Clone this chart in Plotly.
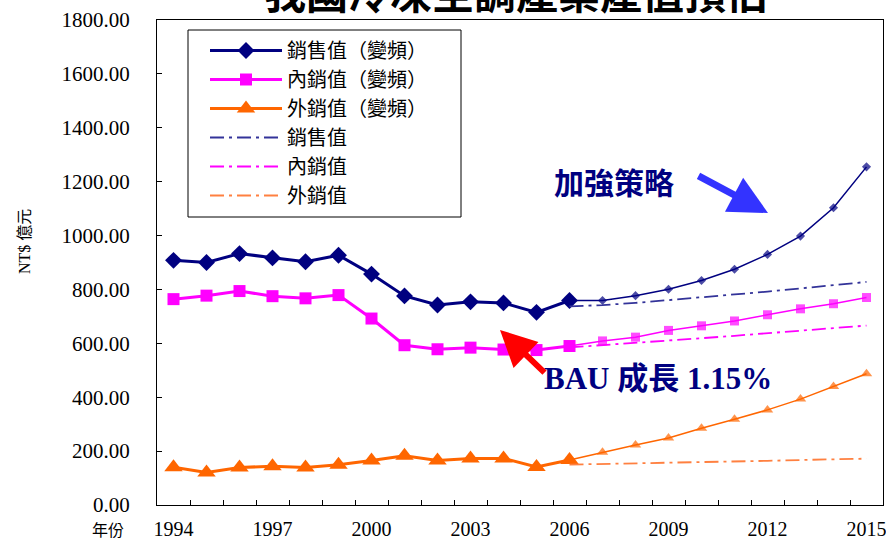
import plotly.graph_objects as go

# ---- data (NT$ 億元) ----
years = list(range(1994, 2016))
hist_years = years[:13]          # 1994-2006 actual
fc_years = years[12:]            # 2006-2015 projection

sales_hist = [908, 900, 933, 917, 903, 927, 857, 776, 742, 754, 750, 715, 759]
domestic_hist = [764, 777, 794, 775, 767, 779, 692, 593, 578, 584, 577, 575, 590]
export_hist = [140, 121, 139, 144, 139, 149, 165, 183, 165, 173, 173, 141, 167]

# 2007-2015 with strengthened (inverter) strategy
sales_fc = [759, 777, 801, 833, 875, 930, 998, 1103, 1255]
domestic_fc = [609, 623, 648, 665, 683, 706, 728, 747, 770]
export_fc = [196, 223, 249, 285, 318, 353, 393, 440, 487]

# 2006-2015 business-as-usual
sales_bau = [737, 742, 750, 760, 770, 781, 792, 804, 816, 828]
domestic_bau = [585, 593, 601, 610, 619, 628, 637, 646, 656, 666]
export_bau = [150, 152, 155, 157, 159, 162, 164, 167, 169, 172]

tick_years = [1994, 1997, 2000, 2003, 2006, 2009, 2012, 2015]
y_ticks = list(range(0, 1801, 200))

NAVY = "#000080"
MAGENTA = "#FF00FF"
ORANGE = "#FF6600"
SERIF = "Liberation Serif, Noto Sans CJK TC, serif"
CJK = "Noto Sans CJK TC, sans-serif"

W, H = 886, 543
L, R, T, B = 157, 3, 20, 38


def px_x(x):
    return (x - L) / (W - L - R)


def px_y(y):
    return 1 - (y - T) / (H - T - B)


fig = go.Figure()

series = [
    ("銷售值（變頻）", sales_hist, sales_fc, NAVY, "diamond", 13, 7),
    ("內銷值（變頻）", domestic_hist, domestic_fc, MAGENTA, "square", 12, 9),
    ("外銷值（變頻）", export_hist, export_fc, ORANGE, "triangle-up", 16, 10),
]

for name, hist, fc, color, symbol, big, small in series:
    fig.add_trace(go.Scatter(
        x=hist_years, y=hist, name=name, mode="lines+markers",
        line=dict(color=color, width=3),
        marker=dict(symbol=symbol, size=big, color=color),
    ))

for name, hist, fc, color, symbol, big, small in series:
    fig.add_trace(go.Scatter(
        x=fc_years, y=[hist[-1]] + fc, mode="lines+markers", showlegend=False,
        line=dict(color=color, width=1.5),
        marker=dict(symbol=symbol, size=[0] + [small] * len(fc), color=color,
                    line=dict(width=0)),
        hoverinfo="x+y",
    ))

bau = [
    ("銷售值", sales_bau, "#333399"),
    ("內銷值", domestic_bau, MAGENTA),
    ("外銷值", export_bau, "#FF8040"),
]
for name, vals, color in bau:
    fig.add_trace(go.Scatter(
        x=fc_years, y=vals, name=name, mode="lines",
        line=dict(color=color, width=1.8, dash="14px,5px,3px,5px"),
    ))

fig.update_layout(
    width=W, height=H,
    margin=dict(l=L, r=R, t=T, b=B, autoexpand=False),
    paper_bgcolor="white", plot_bgcolor="white",
    showlegend=True,
    legend=dict(
        x=px_x(205), y=px_y(31), xanchor="left", yanchor="top",
        bgcolor="rgba(0,0,0,0)", borderwidth=0,
        font=dict(family=CJK, size=20, color="black"),
        itemwidth=72, tracegroupgap=0,
    ),
    # legend frame
    shapes=[dict(type="rect", xref="paper", yref="paper",
                 x0=px_x(188), x1=px_x(461), y0=px_y(217), y1=px_y(30),
                 line=dict(color="black", width=1), fillcolor="white",
                 layer="above")],
)

fig.update_xaxes(
    range=[1993.5, 2015.5], automargin=False,
    tickvals=tick_years, ticktext=[str(y) for y in tick_years],
    ticks="", showgrid=False, zeroline=False,
    showline=True, linecolor="black", linewidth=1, mirror=True,
    tickfont=dict(family=SERIF, size=20, color="black"),
    ticklabelstandoff=6, ticklabeloverflow="allow",
    minor=dict(tickvals=[y + 0.5 for y in years[:-1]], ticks="inside",
               ticklen=5, tickcolor="black", showgrid=False),
)
fig.update_yaxes(
    range=[0, 1800], automargin=False, tickvals=y_ticks, tickformat=".2f",
    ticks="inside", ticklen=5, tickcolor="black",
    showgrid=False, zeroline=False,
    showline=True, linecolor="black", linewidth=1, mirror=True,
    tickfont=dict(family=SERIF, size=21, color="black"),
    ticklabelstandoff=22, ticklabeloverflow="allow",
)

annotations = [
    dict(text="<b>我國冷凍空調產業產值預估</b>", x=px_x(516), y=px_y(23),
         xanchor="center", yanchor="bottom",
         font=dict(family=CJK, size=42, color="black")),
    dict(text="NT$ 億元", x=px_x(25), y=px_y(242), textangle=-90,
         xanchor="center", yanchor="middle",
         font=dict(family=SERIF, size=16, color="black")),
    dict(text="年份", x=px_x(108), y=px_y(529),
         xanchor="center", yanchor="middle",
         font=dict(family=CJK, size=16, color="black")),
    dict(text="<b>加強策略</b>", x=px_x(614), y=px_y(181),
         xanchor="center", yanchor="middle",
         font=dict(family=CJK, size=30, color=NAVY)),
    dict(text="<b>BAU 成長 1.15%</b>", x=px_x(658), y=px_y(378),
         xanchor="center", yanchor="middle",
         font=dict(family=SERIF, size=31, color=NAVY)),
    # blue arrow toward the strategy curve
    dict(text="", x=px_x(768), y=px_y(213), ax=-71, ay=-38,
         showarrow=True, arrowhead=2, arrowsize=1.1, arrowwidth=7,
         arrowcolor="#3333FF"),
    # red arrow toward the BAU curve
    dict(text="", x=px_x(500), y=px_y(330), ax=46, ay=44,
         showarrow=True, arrowhead=2, arrowsize=1.2, arrowwidth=6,
         arrowcolor="#FF0000"),
]
for a in annotations:
    a.setdefault("showarrow", False)
    a["xref"] = "paper"
    a["yref"] = "paper"
    fig.add_annotation(**a)

fig.write_html("out.html")
